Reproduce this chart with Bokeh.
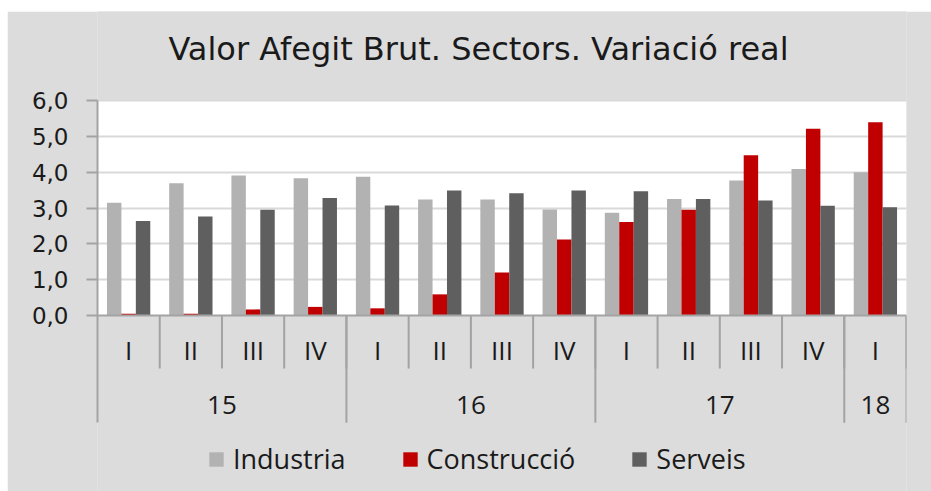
from bokeh.plotting import figure
from bokeh.models import (FactorRange, Range1d, FixedTicker, CustomJSTickFormatter,
                          Legend, LegendItem, ColumnDataSource, BoxAnnotation, Span, Label)
from bokeh.transform import dodge
from bokeh.core.properties import value
from bokeh.embed import file_html
from bokeh.resources import INLINE

# ---- data ----
years = ["15", "15", "15", "15", "16", "16", "16", "16", "17", "17", "17", "17", "18"]
quarters = ["I", "II", "III", "IV", "I", "II", "III", "IV", "I", "II", "III", "IV", "I"]
industria = [3.15, 3.69, 3.91, 3.83, 3.87, 3.24, 3.24, 2.96, 2.87, 3.25, 3.77, 4.09, 4.00]
construccio = [0.05, 0.05, 0.17, 0.24, 0.20, 0.59, 1.20, 2.12, 2.61, 2.95, 4.47, 5.21, 5.39]
serveis = [2.64, 2.76, 2.95, 3.28, 3.07, 3.49, 3.41, 3.49, 3.47, 3.25, 3.21, 3.06, 3.02]
series_names = ["Industria", "Construcció", "Serveis"]
y_ticks = [0, 1, 2, 3, 4, 5, 6]
title_text = "Valor Afegit Brut. Sectors. Variació real"

# ---- styles ----
BG = "#DCDCDC"
COLORS = ["#B2B2B2", "#C00000", "#5F5F5F"]
AXIS = "#A3A3A3"
TXT = "#1A1A1A"
CAT_FONT = "Open Sans"
NUM_FONT = "DejaVu Sans"

factors = list(zip(years, quarters))
year_labels = list(dict.fromkeys(years))

Y_TOP = 8.484      # top of frame (top of grey panel)
Y_MAX = 6          # top of value axis
Y_BOTTOM = -4.912  # bottom of frame (window bottom)
Y_SEP = -2.99      # end of year separators
Q_SEP = -1.48      # end of quarter separators
Q_LAB = -0.95
Y_LAB = -2.51
T_Y = 7.45         # title centre

p = figure(width=924, height=480, output_backend="svg", toolbar_location=None,
           x_range=FactorRange(*factors, group_padding=0, factor_padding=0, range_padding=0),
           y_range=Range1d(Y_BOTTOM, Y_TOP),
           min_border_left=90, min_border_right=25, min_border_top=0, min_border_bottom=0,
           margin=(11, 0, 0, 7))
p.background_fill_color = BG
p.border_fill_color = BG
p.outline_line_color = None

# grey panel + white plot area
p.add_layout(BoxAnnotation(fill_color=BG, fill_alpha=1, line_color=None, level="image"))
p.add_layout(BoxAnnotation(top=Y_MAX, bottom=0, fill_color="white", fill_alpha=1,
                           line_color=None, level="image"))

src = ColumnDataSource(dict(x=factors, ind=industria, con=construccio, ser=serveis))
offsets = [-0.232, 0.0, 0.232]
fields = ["ind", "con", "ser"]
rends = []
for f, off, c in zip(fields, offsets, COLORS):
    r = p.vbar(x=dodge("x", off, range=p.x_range), top=f, bottom=0, width=0.232,
               source=src, fill_color=c, line_color=None)
    rends.append(r)

# x axis line at 0
p.add_layout(Span(location=0, dimension="width", line_color=AXIS, line_width=2))

# separators
qsep_src = ColumnDataSource(dict(x=factors, y1=[Q_SEP] * len(factors)))
p.segment(x0=dodge("x", 0.5, range=p.x_range), y0=0, x1=dodge("x", 0.5, range=p.x_range), y1="y1",
          source=qsep_src, line_color=AXIS, line_width=2)
ends = [factors[i] for i in range(len(factors)) if i == len(factors) - 1 or years[i + 1] != years[i]]
ysep_src = ColumnDataSource(dict(x=ends, y1=[Y_SEP] * len(ends)))
p.segment(x0=dodge("x", 0.5, range=p.x_range), y0=0, x1=dodge("x", 0.5, range=p.x_range), y1="y1",
          source=ysep_src, line_color=AXIS, line_width=2)

# category labels
p.text(x=factors, y=[Q_LAB] * len(factors), text=quarters, text_align="center",
       text_baseline="middle", text_font=value(CAT_FONT), text_font_size="26px", text_color=TXT)
p.text(x=year_labels, y=[Y_LAB] * len(year_labels), text=year_labels, text_align="center",
       text_baseline="middle", text_font=value(CAT_FONT), text_font_size="26px", text_color=TXT)

# axes
p.xaxis.visible = False
p.xgrid.visible = False
yax = p.yaxis[0]
yax.bounds = (Y_SEP, Y_MAX)
yax.ticker = FixedTicker(ticks=y_ticks)
yax.formatter = CustomJSTickFormatter(code="return tick.toFixed(1).replace('.', ',');")
yax.axis_line_color = AXIS
yax.axis_line_width = 2
yax.major_tick_line_color = AXIS
yax.major_tick_line_width = 2
yax.major_tick_out = 11
yax.major_tick_in = 0
yax.minor_tick_line_color = None
yax.major_label_standoff = 18
yax.major_label_text_font = NUM_FONT
yax.major_label_text_font_size = "23px"
yax.major_label_text_color = TXT
p.ygrid.ticker = FixedTicker(ticks=y_ticks[1:])
p.ygrid.grid_line_color = "#D9D9D9"
p.ygrid.grid_line_width = 2

# title (inside the frame, above the value area)
p.add_layout(Label(x=381, y=T_Y, x_units="screen", y_units="data", text=title_text,
                   text_font=NUM_FONT, text_font_size="32px", text_color=TXT,
                   text_align="center", text_baseline="middle"))

# legend
legend = Legend(items=[LegendItem(label=n, renderers=[r]) for n, r in zip(series_names, rends)],
                orientation="horizontal", location=(110, 14))
legend.label_text_font = CAT_FONT
legend.label_text_font_size = "27px"
legend.label_text_color = TXT
legend.glyph_width = 18
legend.glyph_height = 18
legend.label_standoff = 8
legend.spacing = 55
legend.padding = 0
legend.margin = 0
legend.background_fill_alpha = 0
legend.border_line_color = None
p.add_layout(legend)

open("out.html", "w").write(file_html(p, INLINE))
